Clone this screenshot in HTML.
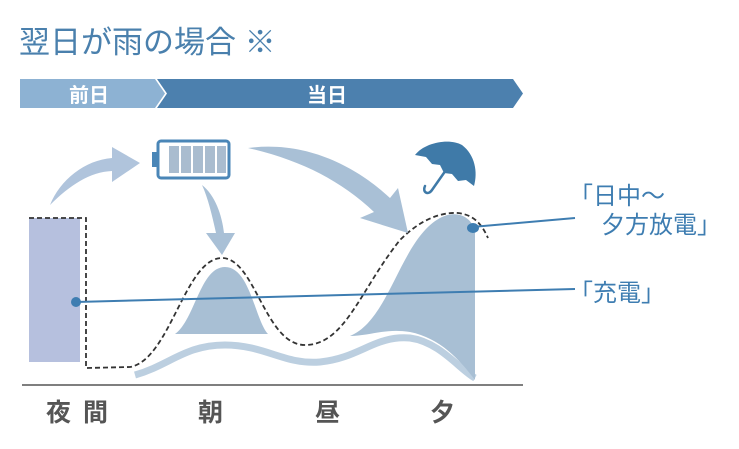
<!DOCTYPE html>
<html><head><meta charset="utf-8"><style>
html,body{margin:0;padding:0;background:#fff;}
svg{display:block;}
text{font-family:"Liberation Sans","Noto Sans CJK JP",sans-serif;}
</style></head><body>
<svg width="739" height="449" viewBox="0 0 739 449" xmlns="http://www.w3.org/2000/svg">
<rect width="739" height="449" fill="#fff"/>
<text x="19" y="53" font-size="31" fill="#4a80ad">翌日が雨の場合 ※</text>
<polygon points="20,79 155,79 165,93.5 155,108 20,108" fill="#8db2d3"/>
<polygon points="157,79 513,79 523,93.5 513,108 157,108 167,93.5" fill="#4c80ae"/>
<text x="69" y="102" font-size="20" font-weight="bold" fill="#fff">前日</text>
<text x="307" y="102" font-size="20" font-weight="bold" fill="#fff">当日</text>

<rect x="29" y="218" width="51" height="144" fill="#b6c0de"/>

<path d="M135,375 C170,365 185,345 225,345 C265,345 285,365 320,362 C360,358 375,335 410,338 C440,342 460,370 475,378" fill="none" stroke="#bccfe0" stroke-width="7"/>
<path d="M175,334 C195,320 200,267 225,267 C250,267 255,320 268,334 Z" fill="#a8bfd4"/>
<path d="M350,336 C390,320 400,240 440,218 C455,210 470,215 475,230 L475,380 C460,360 440,338 410,332 C385,328 370,336 350,336 Z" fill="#a8bfd4"/>

<path d="M29,218 L86,218 L86,368 L130,367 C170,360 185,258 222,258 C255,258 265,345 305,345 C345,345 360,290 400,240 C420,220 440,212 458,213 C475,215 482,225 488,238" fill="none" stroke="#333" stroke-width="1.8" stroke-dasharray="5,3"/>

<line x1="22" y1="385" x2="523" y2="385" stroke="#555" stroke-width="1.5"/>

<path d="M50,205 C60,180 85,160 112,158 L112,147 L140,163 L112,182 L112,171 C90,172 70,185 50,205 Z" fill="#b0c4dc"/>
<path d="M202,185 C215,195 222,215 224,233 L235,233 L222,255 L206,233 L216,233 C212,215 208,198 202,185 Z" fill="#a9c0d6"/>
<path d="M248,148 C310,140 360,170 390,198 L398,188 L408,233 L360,218 L374,212 C340,180 300,160 248,148 Z" fill="#a9c0d6"/>

<rect x="158" y="141" width="71" height="37" rx="3" fill="#fff" stroke="#4a86b7" stroke-width="3"/>
<rect x="152" y="152" width="6" height="15" fill="#4a86b7"/>
<rect x="169" y="146" width="10" height="27" fill="#a9bccf"/>
<rect x="181" y="146" width="10" height="27" fill="#a9bccf"/>
<rect x="193" y="146" width="10" height="27" fill="#a9bccf"/>
<rect x="205" y="146" width="10" height="27" fill="#a9bccf"/>
<rect x="217" y="146" width="9" height="27" fill="#a9bccf"/>

<path d="M415,155 C425,142 450,138 462,145 C475,155 478,172 474,186 L466,180 L458,181 L452,174 L444,173 L440,165 L432,164 L426,157 Z" fill="#3f7aa8"/>
<path d="M446,170 L432,190 C428,196 422,192 425,186" fill="none" stroke="#3f7aa8" stroke-width="2.5" stroke-linecap="round"/>

<line x1="76" y1="302" x2="575" y2="289" stroke="#3e7db1" stroke-width="2"/>
<circle cx="76" cy="302" r="5" fill="#3e7db1"/>
<line x1="472" y1="227" x2="575" y2="218" stroke="#3e7db1" stroke-width="2"/>
<ellipse cx="473" cy="228" rx="6" ry="5" fill="#3e7db1"/>

<text x="569" y="204" font-size="24" fill="#3e7db1">「日中～</text>
<text x="601" y="233" font-size="24" fill="#3e7db1">夕方放電」</text>
<text x="569" y="301" font-size="24" fill="#3e7db1">「充電」</text>

<g font-size="25" font-weight="bold" fill="#555">
<text x="46" y="421">夜</text>
<text x="83" y="421">間</text>
<text x="198" y="421">朝</text>
<text x="315" y="421">昼</text>
<text x="430" y="421">夕</text>
</g>
</svg>
</body></html>
